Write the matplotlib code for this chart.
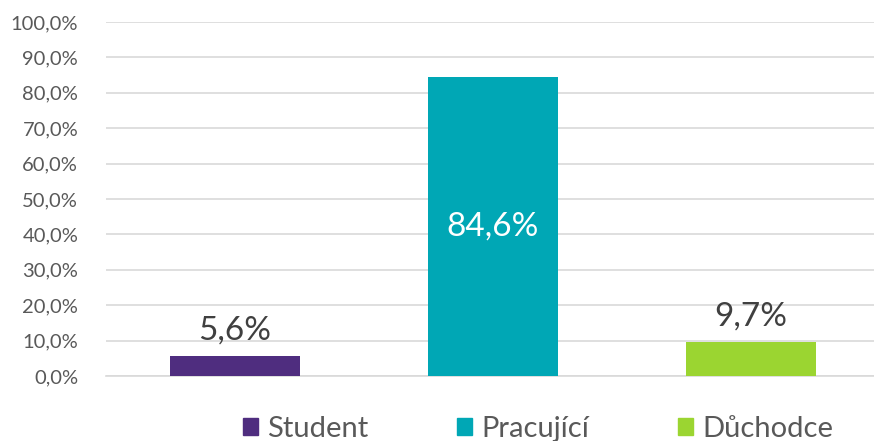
import matplotlib.pyplot as plt
from matplotlib.patches import Patch
from matplotlib.ticker import FuncFormatter

categories = ["Student", "Pracující", "Důchodce"]
values = [5.6, 84.6, 9.7]
colors = ["#4f2d7f", "#00a7b5", "#9bd531"]
label_colors = ["#404040", "white", "#404040"]

plt.rcParams["font.family"] = ["Lato", "DejaVu Sans"]

fig = plt.figure(figsize=(8.74, 4.41), dpi=100)
ax = fig.add_axes([106 / 874, 65 / 441, 768 / 874, 354 / 441])

x = range(len(categories))
ax.bar(x, values, width=0.505, color=colors, zorder=3)

# data labels: outside for small bars, centred for the big one
for i, v in enumerate(values):
    text = f"{v:.1f}%".replace(".", ",")
    if v > 50:
        ax.text(i, v / 2, text, ha="center", va="center",
                fontsize=24, color=label_colors[i])
    else:
        ax.text(i, v + 3.0, text, ha="center", va="bottom",
                fontsize=24, color=label_colors[i])

ax.set_xlim(-0.5, 2.477)
ax.set_ylim(0, 100)
ax.set_yticks(range(0, 101, 10))
ax.yaxis.set_major_formatter(FuncFormatter(lambda v, p: f"{v:.1f}%".replace(".", ",")))
ax.tick_params(axis="y", length=0, labelsize=14.5, labelcolor="#595959", pad=20)
ax.set_xticks([])
ax.grid(axis="y", color="#d9d9d9", linewidth=1.2, zorder=0)
for s in ["top", "right", "left"]:
    ax.spines[s].set_visible(False)
ax.spines["bottom"].set_color("#d9d9d9")
ax.spines["bottom"].set_linewidth(1.2)

handles = [Patch(color=c, label=l) for c, l in zip(colors, categories)]
fig.legend(handles=handles, loc="center", bbox_to_anchor=(0.6156, 0.027),
           ncol=3, frameon=False, fontsize=21, labelcolor="#595959",
           handlelength=0.52, handleheight=0.52, handletextpad=0.3, columnspacing=3.05)

fig.savefig("out.png", dpi=100)
